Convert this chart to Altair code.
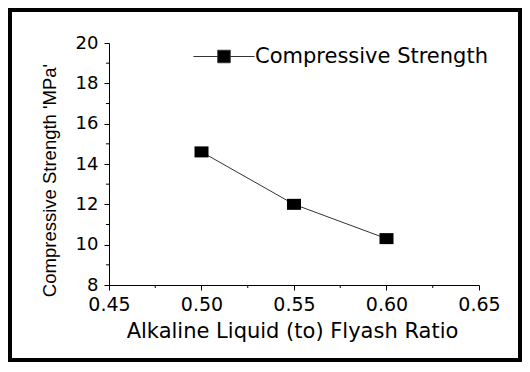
import altair as alt
import pandas as pd

# ---- data ----
ratio = [0.50, 0.55, 0.60]
strength = [14.6, 12.0, 10.3]
series_name = ["Compressive Strength"] * 3
x_major = [0.45, 0.50, 0.55, 0.60, 0.65]
x_minor = [0.475, 0.525, 0.575, 0.625]
y_major = [8, 10, 12, 14, 16, 18, 20]
y_minor = [9, 11, 13, 15, 17, 19]

W, H = 370, 242
PAD = {"left": 101, "top": 35, "right": 43, "bottom": 77}

df = pd.DataFrame({"ratio": ratio, "strength": strength, "series": series_name})

xscale = alt.Scale(domain=[0.45, 0.65], nice=False, zero=False)
yscale = alt.Scale(domain=[8, 20], nice=False, zero=False)

x_axis = alt.Axis(
    values=x_major, format=".2f", title="Alkaline Liquid (to) Flyash Ratio",
    labelFont="DejaVu Sans", labelFontSize=19, labelColor="black", labelPadding=5,
    labelFlush=False, labelOverlap=False,
    tickSize=5, tickColor="black", tickWidth=1, domainColor="black", domainWidth=1,
    grid=False, titleFont="DejaVu Sans", titleFontSize=21, titleFontWeight="normal",
    titleColor="black", titleX=183, titleY=52, titleBaseline="alphabetic", titleAlign="center")
y_axis = alt.Axis(
    values=y_major, title="Compressive Strength 'MPa'",
    labelFont="DejaVu Sans", labelFontSize=18, labelColor="black", labelPadding=6,
    labelFlush=False, labelOverlap=False,
    tickSize=5, tickColor="black", tickWidth=1, domainColor="black", domainWidth=1,
    grid=False, titleFont="Liberation Sans", titleFontSize=18.5, titleFontWeight="normal",
    titleColor="black", titleX=-50, titleY=137, titleBaseline="bottom", titleAlign="center",
    titleAngle=270)

marker_path = "M-1,-0.786H1V0.786H-1Z"
legend_path = "M-4.9,0H-1M1,0H4.9M-1,-1H1V1H-1Z"

line = alt.Chart(df).mark_line(strokeWidth=1).encode(
    x=alt.X("ratio:Q", scale=xscale, axis=x_axis),
    y=alt.Y("strength:Q", scale=yscale, axis=y_axis),
    color=alt.Color("series:N", scale=alt.Scale(range=["#333333"]), legend=alt.Legend(
        orient="none", legendX=104.5, legendY=3, title=None,
        symbolType=legend_path, symbolSize=156, symbolStrokeWidth=1,
        symbolFillColor="black", symbolStrokeColor="#333333",
        labelFont="DejaVu Sans", labelFontSize=21, labelColor="black", labelOffset=20.5,
        labelLimit=0, padding=0)),
)

points = alt.Chart(df).mark_point(
    shape=marker_path, size=196, filled=True, fill="black", strokeWidth=0, opacity=1
).encode(x=alt.X("ratio:Q", scale=xscale, axis=x_axis),
         y=alt.Y("strength:Q", scale=yscale, axis=y_axis))

xminor = alt.Chart(pd.DataFrame({"ratio": x_minor})).mark_rule(color="black", strokeWidth=1).encode(
    x=alt.X("ratio:Q", scale=xscale, axis=x_axis), y=alt.value(H), y2=alt.value(H + 3))
yminor = alt.Chart(pd.DataFrame({"strength": y_minor})).mark_rule(color="black", strokeWidth=1).encode(
    y=alt.Y("strength:Q", scale=yscale, axis=y_axis), x=alt.value(0), x2=alt.value(-3))

border = alt.Chart(pd.DataFrame({"k": [0]})).mark_rect(
    filled=False, stroke="black", strokeWidth=4).encode(
    x=alt.value(-PAD["left"] + 2), x2=alt.value(W + PAD["right"] - 2),
    y=alt.value(-PAD["top"] + 2), y2=alt.value(H + PAD["bottom"] - 2))

chart = alt.layer(line, points, xminor, yminor, border).properties(
    width=W, height=H, padding=PAD, autosize=alt.AutoSizeParams(type="none"),
    background="white"
).configure_view(stroke=None)

chart.save("out.html", embed_options={"renderer": "svg", "actions": False})
